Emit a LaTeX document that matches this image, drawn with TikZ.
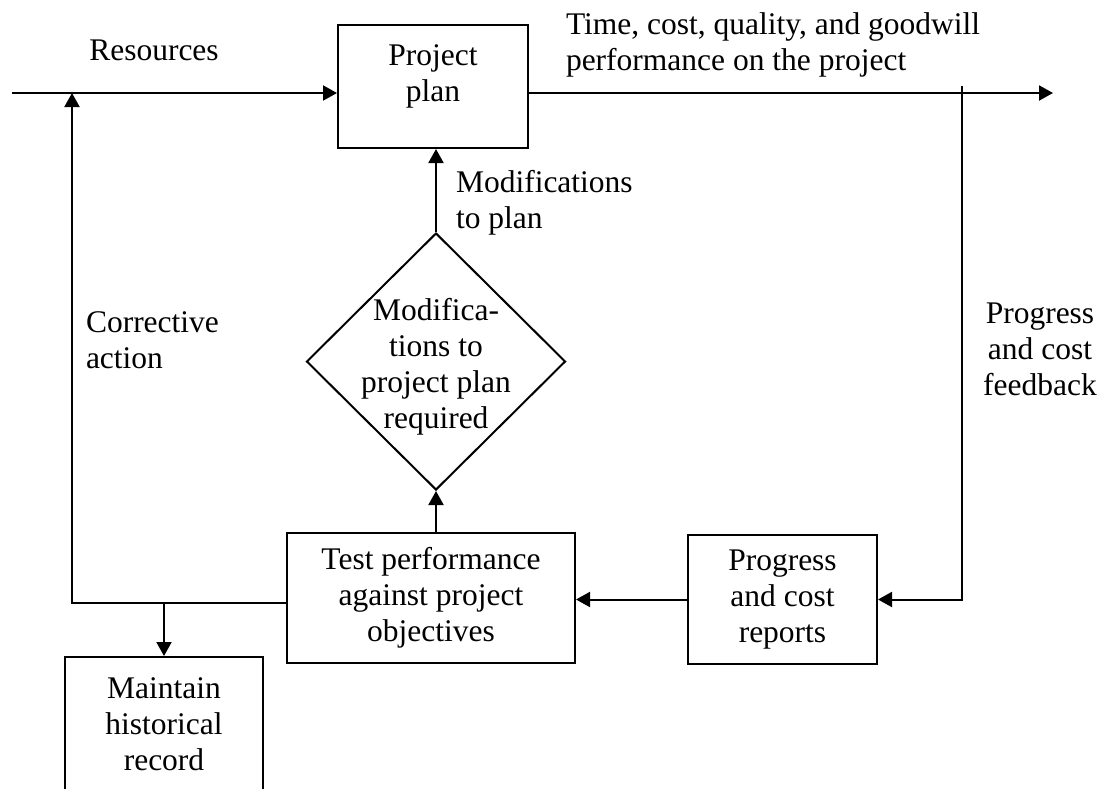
\documentclass[tikz,border=0pt]{standalone}
\usepackage{fontspec}
\setmainfont{Liberation Serif}
\usetikzlibrary{shapes.geometric,arrows.meta}

\tikzset{
  box/.style={draw, rectangle, inner sep=0pt, align=center},
  lbl/.style={inner sep=0pt},
  flow/.style={-{Triangle[length=7pt,width=7.5pt]}}
}

\begin{document}
\begin{tikzpicture}[x=0.5pt, y=-0.5pt, line width=1pt,
  font=\fontsize{15.75}{18}\selectfont]

\useasboundingbox (0,0) rectangle (1104,788);
\clip (0,0) rectangle (1104,788);

% Boxes
\node[box, minimum width=95pt, minimum height=61.5pt] (plan) at (433,86.5) {};
\node[lbl, align=center] (plantext) at (433,76) {Project\\plan};

% Decision
\node[
    diamond,
    draw,
    minimum width=129.5pt,
    minimum height=128.5pt,
    inner sep=0pt
] (decide) at (436,361.5) {};
\node[lbl, align=center] (decidetext) at (436,367) {Modifica-\\tions to\\project plan\\required};

\node[box, minimum width=144pt, minimum height=65pt] (test) at (431,598)
  {Test performance\\against project\\objectives};
\node[box, minimum width=94.5pt, minimum height=64.5pt] (progress) at (782.5,599.5)
  {Progress\\and cost\\reports};
\node[box, minimum width=99pt, minimum height=67.5pt] (record) at (164,724.5)
  {Maintain\\historical\\record};

% Labels
\node[lbl] (resources) at (154,50) {Resources};
\node[lbl, anchor=west, align=left] (outcome) at (565,45)
  {Time, cost, quality, and goodwill\\performance on the project};
\node[lbl, anchor=west, align=left] (modlabel) at (455,203) {Modifications\\to plan};
\node[lbl, anchor=west, align=left] (corrlabel) at (85,340) {Corrective\\action};
\node[lbl, align=center] (fblabel) at (1040,349) {Progress\\and cost\\feedback};

% Connectors
\coordinate (in) at (12,93);
\coordinate (out) at (1053,93);
\coordinate (tap) at (962,86);
\coordinate (corr) at (72,93);
\coordinate (tee) at (164,603);

\draw[flow] (in) -- (in -| plan.west);
\draw[flow] (out -| plan.east) -- (out);
\draw[flow] (tap) |- (progress.east);
\draw[flow] (progress.west) -- (progress.west -| test.east);
\draw[flow] (decide.south |- test.north) -- (decide.south);
\draw[flow] (decide.north) -- (decide.north |- plan.south);
\draw[flow] (tee -| test.west) -- (tee) -| (corr);
\draw[flow] (tee) -- (record.north);

\end{tikzpicture}
\end{document}
